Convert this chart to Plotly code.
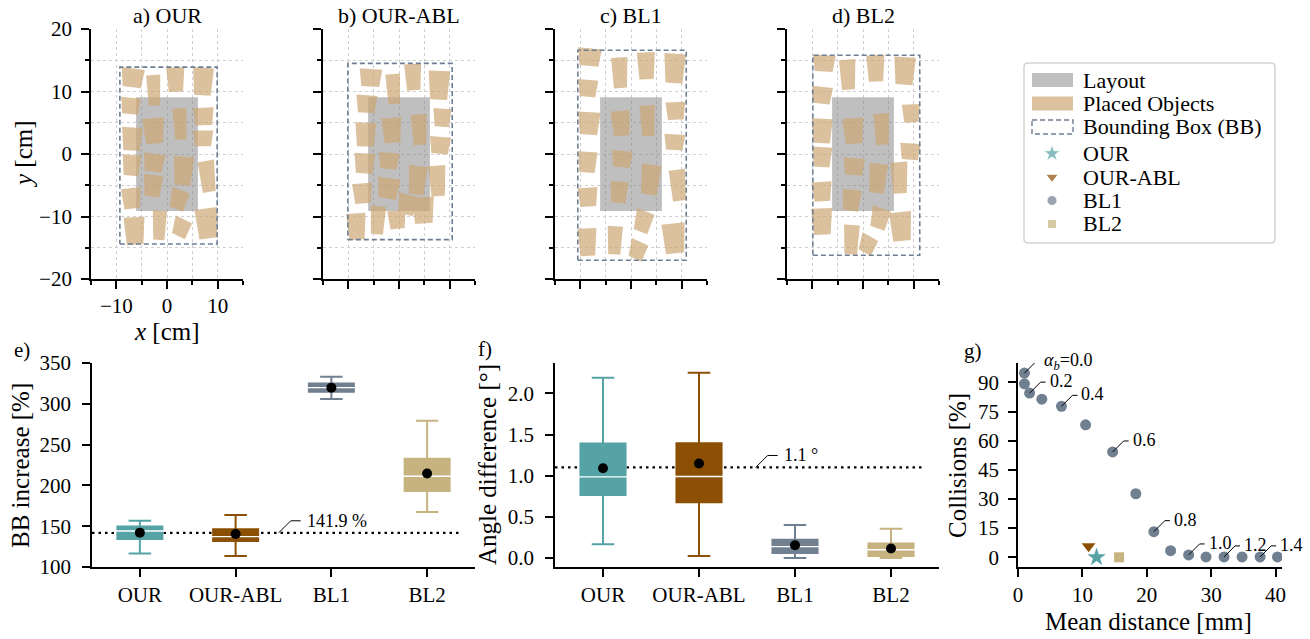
import numpy as np
import plotly.graph_objects as go

W, H = 1310, 639
FONT = "Liberation Serif"

# ------------------------------------------------------------------ data
panel_titles = ["a) OUR", "b) OUR-ABL", "c) BL1", "d) BL2"]

layout_x = [-6.1, 6.1]
layout_y = [-9.1, 9.1]

bb_x0 = [-9.3, -10.1, -10.5, -9.9]
bb_x1 = [9.9, 10.5, 10.9, 11.2]
bb_y0 = [-14.4, -13.7, -17.0, -16.2]
bb_y1 = [13.9, 14.5, 16.6, 15.8]

# placed objects (centre x, centre y, width, height in cm, rotation in deg)
obj_a_x = [-6.8, -2.6, 1.7, 7.1, -7.2, 7.2, 2.6, -2.6, -6.9, 7.1, -7.0, -2.6, 3.2, 8.0, -2.8, -7.0, 2.3, -6.4, -1.5, 2.8, 7.9]
obj_a_y = [12.2, 10.2, 11.9, 11.6, 7.7, 6.0, 4.8, 3.7, 2.4, 2.5, -1.8, -1.4, -2.7, -3.6, -5.1, -7.1, -7.3, -12.3, -11.4, -11.8, -11.1]
obj_a_w = [4.1, 2.5, 3.2, 3.7, 3.5, 3.7, 2.5, 3.8, 3.7, 3.6, 3.3, 3.8, 3.6, 2.9, 3.4, 3.5, 3.2, 3.7, 2.5, 3.1, 4.0]
obj_a_h = [3.0, 4.9, 3.9, 4.4, 2.6, 2.8, 5.0, 4.1, 3.7, 2.5, 3.3, 2.9, 4.6, 5.0, 3.5, 3.3, 3.2, 4.4, 4.7, 2.9, 4.8]
obj_a_r = [-6, 3, 2, -3, -5, 2, 4, 5, -3, 0, -4, -6, -4, 8, -6, 5, -18, 3, -3, -22, 6]

obj_b_x = [-5.6, -1.1, 2.8, 7.9, -6.4, 8.5, 4.0, -1.4, -6.6, 8.1, -6.8, -2.0, 3.6, 7.6, -2.1, -7.2, 1.6, -8.4, -4.2, -0.4, 4.8]
obj_b_y = [12.2, 10.4, 12.3, 11.0, 8.0, 5.8, 3.9, 3.8, 3.1, 1.4, -1.5, -1.1, -4.2, -4.3, -5.5, -6.3, -8.1, -11.6, -10.6, -10.5, -9.0]
obj_b_w = [4.0, 2.6, 3.0, 3.8, 3.7, 3.2, 2.8, 3.5, 3.7, 3.7, 3.7, 3.7, 3.3, 3.0, 4.0, 3.5, 3.4, 3.4, 2.7, 3.2, 3.9]
obj_b_h = [2.8, 4.8, 4.2, 4.6, 2.8, 2.9, 4.9, 4.0, 3.8, 2.7, 3.2, 2.6, 4.6, 4.9, 3.3, 3.2, 3.2, 4.2, 4.5, 2.9, 4.2]
obj_b_r = [-3, 4, 3, -2, -3, -3, 4, 4, -2, -4, -3, -4, -6, 3, -7, 4, -12, 3, -4, 5, 3]

obj_c_x = [-8.2, -2.2, 3.0, 8.6, -8.5, 8.8, 3.3, -2.0, -8.3, 8.6, -8.6, -1.8, 3.8, 9.3, -2.4, -8.5, 2.4, -8.6, -3.2, 1.3, 8.5]
obj_c_y = [15.5, 13.0, 14.1, 13.7, 10.5, 6.9, 5.3, 4.9, 4.9, 1.9, -1.3, -0.8, -4.1, -5.0, -6.1, -6.9, -10.8, -14.1, -13.8, -15.4, -13.5]
obj_c_w = [4.2, 2.9, 3.2, 3.8, 3.5, 3.5, 2.7, 3.4, 3.9, 3.7, 3.4, 3.7, 3.5, 2.9, 3.2, 3.5, 3.2, 3.3, 2.7, 3.1, 4.1]
obj_c_h = [2.8, 4.9, 4.3, 4.7, 2.7, 2.8, 4.9, 4.0, 3.6, 2.5, 3.3, 2.6, 4.8, 5.0, 3.4, 3.0, 3.4, 4.4, 4.5, 2.9, 4.8]
obj_c_r = [-4, 3, 2, -3, -4, 2, 3, 4, -3, -3, -3, -5, -7, 6, -5, 3, -18, 2, -3, -20, 5]

obj_d_x = [-7.7, -3.0, 2.5, 8.2, -8.1, 9.5, 3.7, -1.9, -8.1, 9.3, -8.1, -1.8, 2.9, 7.2, -2.3, -8.1, 3.3, -8.1, -2.3, 0.9, 7.5]
obj_d_y = [14.5, 12.7, 13.7, 13.3, 9.4, 6.5, 4.0, 3.7, 3.7, 0.4, -0.5, -2.0, -3.9, -3.8, -7.4, -6.0, -10.3, -10.8, -13.7, -14.5, -11.6]
obj_d_w = [4.0, 2.9, 3.2, 3.8, 3.7, 3.2, 2.8, 3.7, 3.7, 3.6, 3.5, 3.8, 3.3, 3.0, 3.4, 3.5, 3.3, 3.7, 2.8, 3.0, 3.9]
obj_d_h = [2.6, 4.8, 4.2, 4.4, 2.7, 2.9, 5.0, 4.1, 3.9, 2.6, 3.2, 2.7, 4.7, 5.0, 3.4, 3.1, 3.3, 4.2, 4.7, 2.8, 4.6]
obj_d_r = [-3, 3, 2, -3, -5, 2, 3, 4, -2, -3, -3, -4, -6, 3, -6, 3, -16, 2, -3, -24, 5]

methods = ["OUR", "OUR-ABL", "BL1", "BL2"]

# e) bounding-box increase [%]
bb_q1 = [134.3, 131.8, 314.9, 193.0]
bb_med = [144.2, 137.2, 319.8, 211.2]
bb_q3 = [149.6, 146.3, 324.8, 232.6]
bb_lo = [116.5, 113.6, 305.8, 167.4]
bb_hi = [156.6, 163.6, 333.0, 279.3]
bb_mean = [142.1, 140.5, 319.8, 214.5]
bb_ref = 141.9

# f) angle difference [deg]
ang_q1 = [0.766, 0.676, 0.061, 0.024]
ang_med = [0.986, 0.990, 0.138, 0.100]
ang_q3 = [1.390, 1.393, 0.220, 0.175]
ang_lo = [0.167, 0.024, 0.0, 0.0]
ang_hi = [2.190, 2.250, 0.400, 0.354]
ang_mean = [1.090, 1.149, 0.155, 0.114]
ang_ref = 1.1

# g) collisions vs mean distance
bl1_alpha = [0.0, 0.1, 0.2, 0.3, 0.4, 0.5, 0.6, 0.7, 0.8, 0.9, 1.0, 1.1, 1.2, 1.3, 1.4, 1.5]
bl1_dist = [1.0, 1.0, 1.8, 3.7, 6.75, 10.5, 14.7, 18.3, 21.1, 23.7, 26.5, 29.2, 32.0, 34.8, 37.6, 40.3]
bl1_coll = [94.8, 89.3, 84.5, 81.4, 77.7, 68.2, 54.2, 32.7, 13.2, 3.4, 1.2, 0.2, 0.2, 0.2, 0.2, 0.2]
our_dist, our_coll = [12.2], [0.0]
abl_dist, abl_coll = [10.96], [5.7]
bl2_dist, bl2_coll = [15.7], [0.0]

# ------------------------------------------------------------------ style
C_OUR, C_ABL, C_BL1, C_BL2 = "#56a3a6", "#8c5004", "#708090", "#c6b380"
method_colors = [C_OUR, C_ABL, C_BL1, C_BL2]
C_LAYOUT = "rgba(128,128,128,0.5)"
C_OBJ = "rgba(205,166,118,0.70)"
C_BB = "#6f7f92"
TAPER = 0.12

fig = go.Figure()


def fx(p):
    return p / W


def fy(p):
    return 1 - p / H


def quads(cx, cy, w, h, rot):
    xs, ys = [], []
    for x0, y0, ww, hh, a in zip(cx, cy, w, h, rot):
        t = np.deg2rad(a)
        c, s = np.cos(t), np.sin(t)
        top, bot = ww * (1 + TAPER) / 2, ww * (1 - TAPER) / 2
        pts = [(-bot, -hh / 2), (bot, -hh / 2), (top, hh / 2), (-top, hh / 2), (-bot, -hh / 2)]
        for px, py in pts:
            xs.append(x0 + c * px - s * py)
            ys.append(y0 + s * px + c * py)
        xs.append(None)
        ys.append(None)
    return xs, ys


objects = [
    (obj_a_x, obj_a_y, obj_a_w, obj_a_h, obj_a_r),
    (obj_b_x, obj_b_y, obj_b_w, obj_b_h, obj_b_r),
    (obj_c_x, obj_c_y, obj_c_w, obj_c_h, obj_c_r),
    (obj_d_x, obj_d_y, obj_d_w, obj_d_h, obj_d_r),
]

top_dom_x = [(91, 243), (323, 475), (555, 707), (787, 939)]
top_dom_y = (29, 279)

axis_base = dict(showline=True, linecolor="black", linewidth=1.7, ticks="outside", ticklen=8,
                 tickwidth=1.5, tickcolor="black", zeroline=False, automargin=False,
                 tickfont=dict(family=FONT, size=21, color="black"))
grid_style = dict(showgrid=True, gridcolor="#cfcfcf", griddash="dot", gridwidth=1)
minor_style = dict(dtick=5, tick0=0, ticks="outside", ticklen=4, tickwidth=1.5, tickcolor="black",
                   showgrid=True, gridcolor="#cfcfcf", griddash="dot", gridwidth=1)

layout_axes = {}
annotations = []
shapes = []

for i in range(4):
    sfx = "" if i == 0 else str(i + 1)
    xa, ya = "x" + sfx, "y" + sfx
    # layout
    fig.add_trace(go.Scatter(
        x=[layout_x[0], layout_x[1], layout_x[1], layout_x[0], layout_x[0]],
        y=[layout_y[0], layout_y[0], layout_y[1], layout_y[1], layout_y[0]],
        fill="toself", fillcolor=C_LAYOUT, mode="lines", line=dict(width=0),
        xaxis=xa, yaxis=ya, hoverinfo="skip", showlegend=False))
    # objects
    ox, oy = quads(*objects[i])
    fig.add_trace(go.Scatter(x=ox, y=oy, fill="toself", fillcolor=C_OBJ, mode="lines",
                             line=dict(width=0), xaxis=xa, yaxis=ya, hoverinfo="skip",
                             showlegend=False))
    # bounding box
    fig.add_trace(go.Scatter(
        x=[bb_x0[i], bb_x1[i], bb_x1[i], bb_x0[i], bb_x0[i]],
        y=[bb_y0[i], bb_y0[i], bb_y1[i], bb_y1[i], bb_y0[i]],
        mode="lines", line=dict(color=C_BB, width=1.6, dash="5px,3px"),
        xaxis=xa, yaxis=ya, hoverinfo="skip", showlegend=False))

    d0, d1 = top_dom_x[i]
    layout_axes["xaxis" + sfx] = dict(
        axis_base, **grid_style, domain=[fx(d0), fx(d1)], range=[-15, 15], dtick=10, tick0=0,
        anchor=ya, showticklabels=(i == 0), minor=minor_style, ticklabelstandoff=-1)
    layout_axes["yaxis" + sfx] = dict(
        axis_base, **grid_style, domain=[fy(top_dom_y[1]), fy(top_dom_y[0])], range=[-20, 20],
        dtick=10, tick0=0, anchor=xa, showticklabels=(i == 0), minor=minor_style,
        ticklabelstandoff=5)
    annotations.append(dict(text=panel_titles[i], x=fx((d0 + d1) / 2), y=fy(15), xref="paper",
                            yref="paper", showarrow=False, xanchor="center", yanchor="middle",
                            font=dict(family=FONT, size=22)))

# ------------------------------------------------------------------ e) and f) box plots
box_panels = [
    ("5", (92, 475), [bb_q1, bb_med, bb_q3, bb_lo, bb_hi, bb_mean], bb_ref, [100, 350], 50, None),
    ("6", (555, 939), [ang_q1, ang_med, ang_q3, ang_lo, ang_hi, ang_mean], ang_ref, [-0.11, 2.37], 0.5, ".1f"),
]
bottom_y = (363, 567)
for sfx, (d0, d1), (q1, med, q3, lo, hi, mean), ref, yr, dt, fmt in box_panels:
    xa, ya = "x" + sfx, "y" + sfx
    for k, m in enumerate(methods):
        fig.add_trace(go.Box(
            x=[m], q1=[q1[k]], median=[med[k]], q3=[q3[k]], lowerfence=[lo[k]], upperfence=[hi[k]],
            fillcolor=method_colors[k], line=dict(color=method_colors[k], width=2), width=0.47,
            whiskerwidth=0.5, boxpoints=False, xaxis=xa, yaxis=ya, hoverinfo="skip",
            showlegend=False))
    fig.add_trace(go.Scatter(x=methods, y=med, mode="markers",
                             marker=dict(symbol="line-ew", size=43, line=dict(color="white", width=1.4)),
                             xaxis=xa, yaxis=ya, hoverinfo="skip", showlegend=False))
    fig.add_trace(go.Scatter(x=methods, y=mean, mode="markers",
                             marker=dict(symbol="circle", size=10, color="black"),
                             xaxis=xa, yaxis=ya, hoverinfo="skip", showlegend=False))
    layout_axes["xaxis" + sfx] = dict(axis_base, domain=[fx(d0), fx(d1)], type="category",
                                      categoryorder="array", categoryarray=methods,
                                      range=[-0.5, 3.5], anchor=ya, showgrid=False)
    yax = dict(axis_base, domain=[fy(bottom_y[1]), fy(bottom_y[0])], range=yr, dtick=dt, tick0=0,
               anchor=xa, showgrid=False, ticklabelstandoff=7)
    if fmt:
        yax["tickformat"] = fmt
    layout_axes["yaxis" + sfx] = yax
    shapes.append(dict(type="line", xref=xa + " domain", yref=ya, x0=0, x1=0.96, y0=ref, y1=ref,
                       layer="below", line=dict(color="black", width=2.2, dash="2.5px,4px")))

# reference value labels with leader lines
ref_labels = [("5", 1.45, bb_ref, "141.9 %"), ("6", 1.59, ang_ref, "1.1 °")]
for sfx, cx, yv, txt in ref_labels:
    xd = (cx + 0.5) / 4
    shapes.append(dict(type="path", xref="x" + sfx + " domain", yref="y" + sfx,
                       xsizemode="pixel", ysizemode="pixel", xanchor=xd, yanchor=yv,
                       path="M0,0 L12,12 L22,12", line=dict(color="black", width=1)))
    annotations.append(dict(text=txt, xref="x" + sfx + " domain", yref="y" + sfx, x=xd, y=yv,
                            xshift=26, yshift=12, xanchor="left", yanchor="middle",
                            showarrow=False, font=dict(family=FONT, size=18)))

# ------------------------------------------------------------------ g) scatter
fig.add_trace(go.Scatter(x=bl1_dist, y=bl1_coll, mode="markers",
                         marker=dict(symbol="circle", size=11, color=C_BL1),
                         xaxis="x7", yaxis="y7", hoverinfo="skip", showlegend=False))
fig.add_trace(go.Scatter(x=abl_dist, y=abl_coll, mode="markers",
                         marker=dict(symbol="triangle-down", size=12, color=C_ABL),
                         xaxis="x7", yaxis="y7", hoverinfo="skip", showlegend=False))
fig.add_trace(go.Scatter(x=our_dist, y=our_coll, mode="markers",
                         marker=dict(symbol="star", size=14, color=C_OUR),
                         xaxis="x7", yaxis="y7", hoverinfo="skip", showlegend=False))
fig.add_trace(go.Scatter(x=bl2_dist, y=bl2_coll, mode="markers",
                         marker=dict(symbol="square", size=10, color=C_BL2),
                         xaxis="x7", yaxis="y7", hoverinfo="skip", showlegend=False))
layout_axes["xaxis7"] = dict(axis_base, domain=[fx(1018), fx(1282)], range=[0, 41], dtick=10,
                             tick0=0, anchor="y7", showgrid=False)
layout_axes["yaxis7"] = dict(axis_base, domain=[fy(bottom_y[1]), fy(bottom_y[0])], range=[-5, 100],
                             dtick=15, tick0=0, anchor="x7", showgrid=False, ticklabelstandoff=5)
for k in range(0, 16, 2):
    lab = f"{bl1_alpha[k]:.1f}"
    if k == 0:
        lab = "<i>α</i><sub><i>b</i></sub>=" + lab
    shapes.append(dict(type="path", xref="x7", yref="y7", xsizemode="pixel", ysizemode="pixel",
                       xanchor=bl1_dist[k], yanchor=bl1_coll[k], path="M0,0 L11,11 L16,11",
                       line=dict(color="black", width=1)))
    annotations.append(dict(text=lab, xref="x7", yref="y7", x=bl1_dist[k], y=bl1_coll[k],
                            xshift=18, yshift=12, xanchor="left", yanchor="middle",
                            showarrow=False, font=dict(family=FONT, size=18)))

# ------------------------------------------------------------------ axis titles & panel letters
def paper_text(txt, px, py, size, angle=0):
    annotations.append(dict(text=txt, x=fx(px), y=fy(py), xref="paper", yref="paper",
                            showarrow=False, xanchor="center", yanchor="middle", textangle=angle,
                            font=dict(family=FONT, size=size)))


paper_text("<i>y</i> [cm]", 23, 154, 25, -90)
paper_text("<i>x</i> [cm]", 167, 332, 25)
paper_text("BB increase [%]", 20, 466, 25, -90)
paper_text("Angle difference [°]", 487, 465, 25, -90)
paper_text("Collisions [%]", 957, 466, 25, -90)
paper_text("Mean distance [mm]", 1148, 621, 25)
paper_text("e)", 22, 350, 21)
paper_text("f)", 485, 349, 21)
paper_text("g)", 973, 351, 21)

# ------------------------------------------------------------------ legend (drawn by hand)
LX0, LX1, LY0, LY1 = 1024, 1275, 63, 243
r = 4
legend_path = (f"M{fx(LX0 + r)},{fy(LY0)} L{fx(LX1 - r)},{fy(LY0)} Q{fx(LX1)},{fy(LY0)} {fx(LX1)},{fy(LY0 + r)} "
               f"L{fx(LX1)},{fy(LY1 - r)} Q{fx(LX1)},{fy(LY1)} {fx(LX1 - r)},{fy(LY1)} "
               f"L{fx(LX0 + r)},{fy(LY1)} Q{fx(LX0)},{fy(LY1)} {fx(LX0)},{fy(LY1 - r)} "
               f"L{fx(LX0)},{fy(LY0 + r)} Q{fx(LX0)},{fy(LY0)} {fx(LX0 + r)},{fy(LY0)} Z")
shapes.append(dict(type="path", xref="paper", yref="paper", path=legend_path,
                   fillcolor="white", line=dict(color="#d4d4d4", width=1.5), layer="below"))

legend_labels = ["Layout", "Placed Objects", "Bounding Box (BB)", "OUR", "OUR-ABL", "BL1", "BL2"]
row_y = [80 + 23.5 * j + (3 if j >= 3 else 0) for j in range(7)]
patch_styles = [
    dict(fillcolor=C_LAYOUT, line=dict(width=0)),
    dict(fillcolor=C_OBJ, line=dict(width=0)),
    dict(fillcolor="rgba(0,0,0,0)", line=dict(color=C_BB, width=1.4, dash="5px,3px")),
]
for j, st in enumerate(patch_styles):
    shapes.append(dict(type="rect", xref="paper", yref="paper", x0=fx(1032), x1=fx(1073),
                       y0=fy(row_y[j] - 7), y1=fy(row_y[j] + 7), layer="above", **st))
for j, lab in enumerate(legend_labels):
    annotations.append(dict(text=lab, x=fx(1081), y=fy(row_y[j]), xref="paper", yref="paper",
                            showarrow=False, xanchor="left", yanchor="middle",
                            font=dict(family=FONT, size=22)))

leg_symbols = ["star", "triangle-down", "circle", "square"]
leg_sizes = [13, 11, 10, 9]
fig.add_trace(go.Scatter(x=[1052] * 4, y=row_y[3:], mode="markers",
                         marker=dict(symbol=leg_symbols, size=leg_sizes, color=method_colors),
                         xaxis="x8", yaxis="y8", hoverinfo="skip", showlegend=False))
layout_axes["xaxis8"] = dict(domain=[0, 1], range=[0, W], visible=False, anchor="y8",
                             fixedrange=True, automargin=False)
layout_axes["yaxis8"] = dict(domain=[0, 1], range=[H, 0], visible=False, anchor="x8",
                             fixedrange=True, automargin=False)

fig.update_layout(
    template="none",
    width=W, height=H, margin=dict(l=0, r=0, t=0, b=0, pad=0, autoexpand=False), autosize=False,
    paper_bgcolor="white", plot_bgcolor="rgba(0,0,0,0)", showlegend=False, boxmode="overlay",
    font=dict(family=FONT, size=21, color="black"),
    annotations=annotations, shapes=shapes, **layout_axes)

fig.write_html("out.html", config={"displayModeBar": False},
               post_script="document.body.style.margin='0px';document.body.style.overflow='hidden';")
